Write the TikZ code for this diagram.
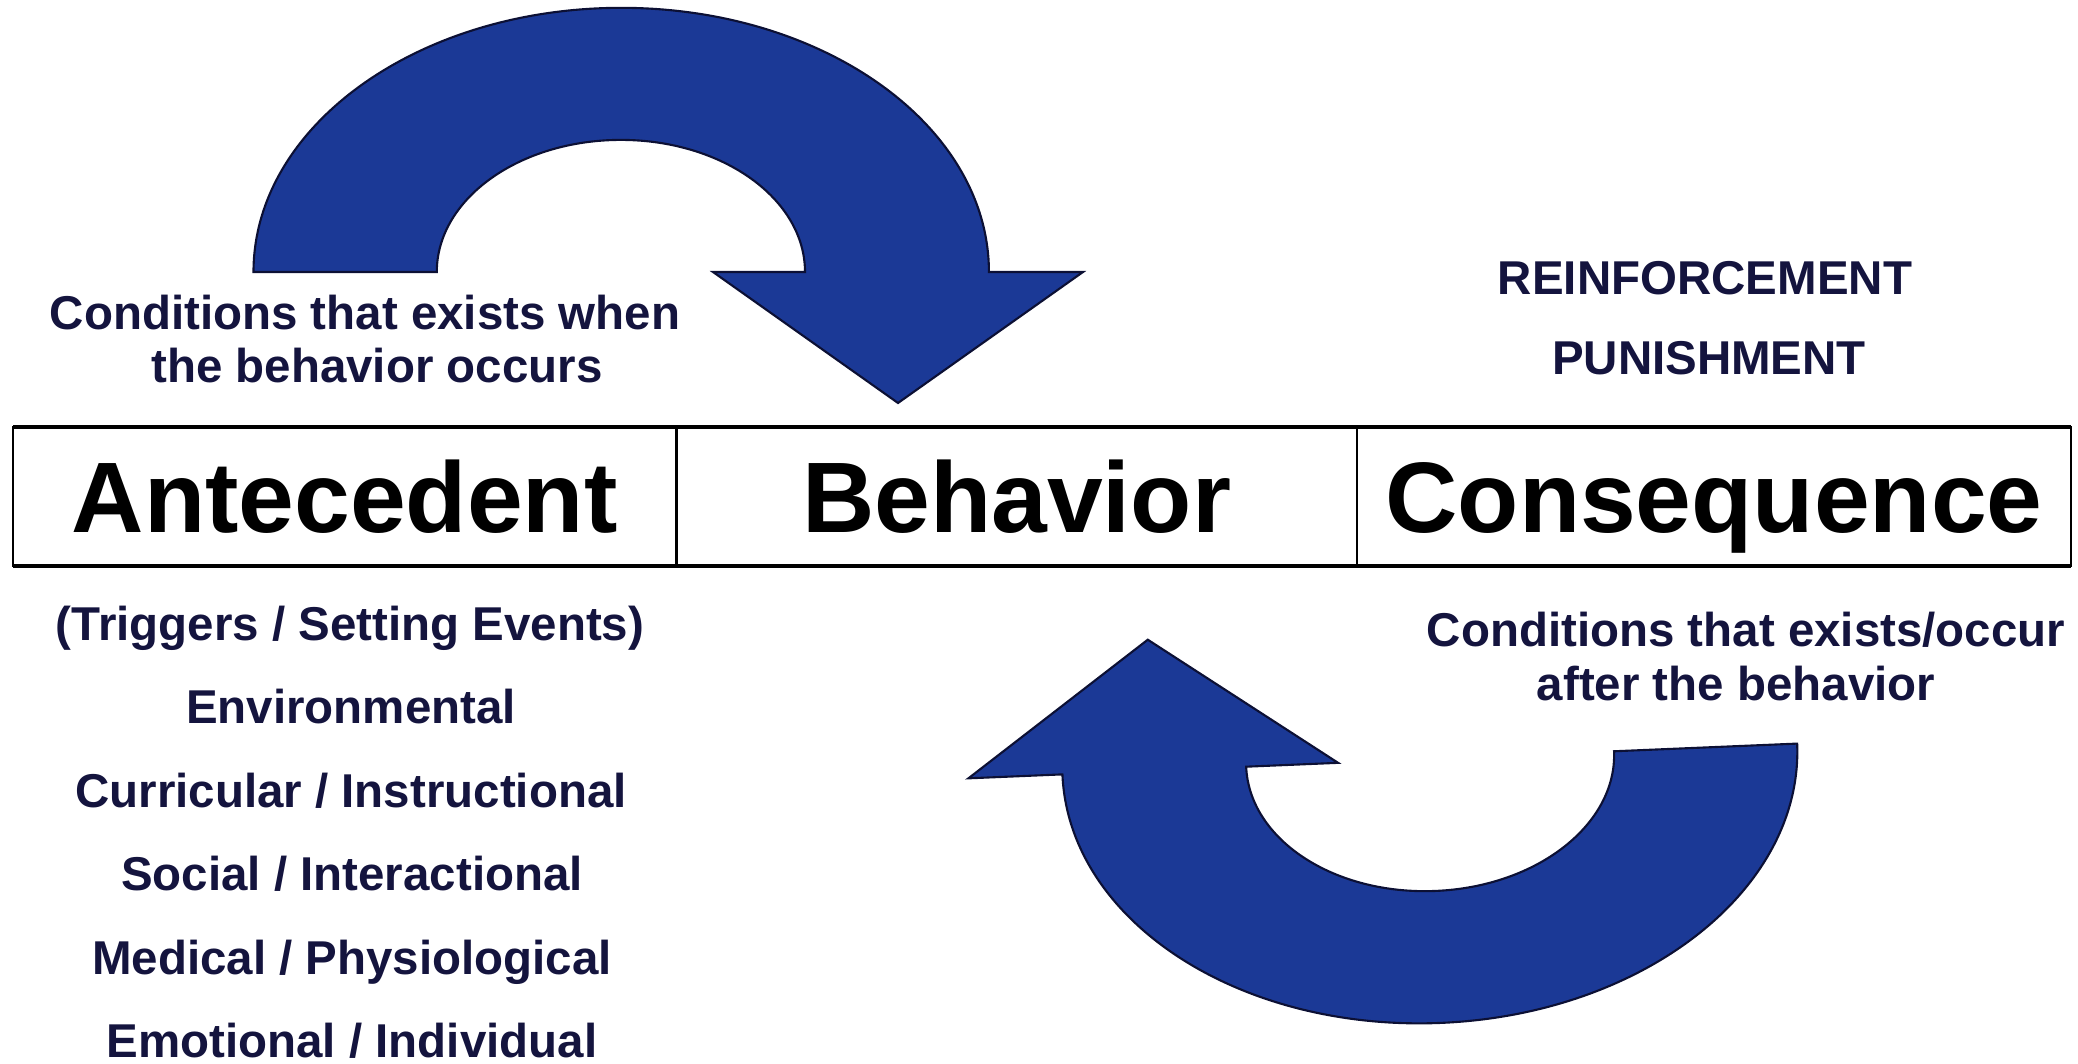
\documentclass[tikz,border=0pt]{standalone}
\usepackage{fontspec}
\setmainfont{Liberation Sans}
\usetikzlibrary{positioning}

\definecolor{arrowblue}{RGB}{27,57,150}
\definecolor{arrowedge}{RGB}{12,16,52}
\definecolor{navytext}{RGB}{20,20,62}

\tikzset{
  uturn/.style={fill=arrowblue, draw=arrowedge, line width=0.6pt, line join=miter},
  cell/.style={draw, line width=0.7pt, outer sep=0pt, inner sep=0pt, minimum height=1.39cm,
    text height=20.4pt, text depth=0pt, font=\fontsize{28.5}{34}\selectfont\bfseries},
  note/.style={anchor=base, inner sep=0pt, text=navytext, font=\fontsize{13.5}{16}\selectfont\bfseries}
}

\begin{document}
\begin{tikzpicture}[x=0.01cm, y=0.01cm]
  \useasboundingbox (0,0) rectangle (2078,1064);

  % ABC table
  \node[cell, minimum width=6.63cm, anchor=west] (antecedent) at (13,567.5) {Antecedent};
  \node[cell, minimum width=6.80cm, right=0pt of antecedent] (behavior) {Behavior};
  \node[cell, minimum width=7.14cm, right=0pt of behavior] (consequence) {Consequence};
  \draw[line width=1.1pt] (antecedent.north west) -- (consequence.north east);
  \draw[line width=1.1pt] (antecedent.south west) -- (consequence.south east);

  % Top arrow
  \begin{scope}[shift={(621,792)}]
    \draw[uturn] (-367.5,0) arc[start angle=180, end angle=0, x radius=3.675cm, y radius=2.64cm]
      -- (462,0) -- (277,-131) -- (92,0) -- (184,0)
      arc[start angle=0, end angle=180, x radius=1.84cm, y radius=1.32cm] -- cycle;
  \end{scope}

  % Bottom arrow
  \begin{scope}[shift={(1430,305)}, rotate=182.4]
    \draw[uturn] (-367.5,0) arc[start angle=180, end angle=0, x radius=3.675cm, y radius=2.64cm]
      -- (462,0) -- (277,-131) -- (92,0) -- (184,0)
      arc[start angle=0, end angle=180, x radius=1.84cm, y radius=1.32cm] -- cycle;
  \end{scope}

  % Antecedent notes
  \node[note] (whenA) at (365,734) {Conditions that exists when};
  \node[note] (whenB) at (377,681) {the behavior occurs};
  \node[note] (triggers) at (350,423) {(Triggers / Setting Events)};
  \node[note] (environ) at (351,340) {Environmental};
  \node[note] (curric) at (351,256) {Curricular / Instructional};
  \node[note] (social) at (352,173) {Social / Interactional};
  \node[note] (medical) at (352,89) {Medical / Physiological};
  \node[note] (emotion) at (352,6) {Emotional / Individual};

  % Consequence notes
  \node[note] (reinf) at (1705,769) {REINFORCEMENT};
  \node[note] (punish) at (1709,689) {PUNISHMENT};
  \node[note] (afterA) at (1746,417) {Conditions that exists/occur};
  \node[note] (afterB) at (1736,363) {after the behavior};
\end{tikzpicture}
\end{document}
